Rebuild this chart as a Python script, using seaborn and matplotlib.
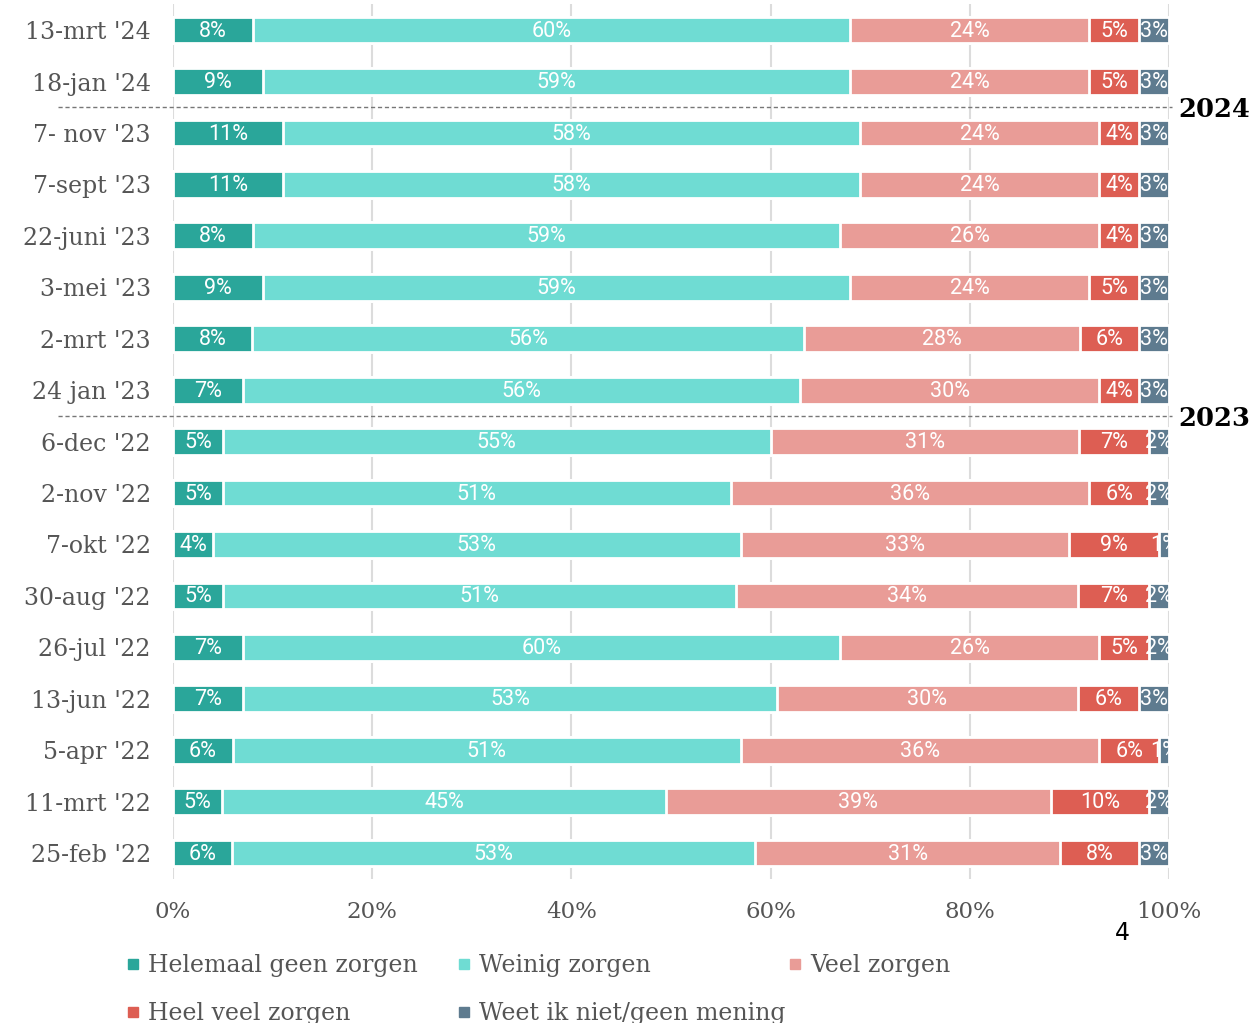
import numpy as np
import pandas as pd
import matplotlib
matplotlib.use("Agg")
import matplotlib.pyplot as plt
import seaborn as sns
from matplotlib.patches import Rectangle
from matplotlib.lines import Line2D

# ---------------- data ----------------
dates = ["13-mrt '24", "18-jan '24", "7- nov '23", "7-sept '23", "22-juni '23",
         "3-mei '23", "2-mrt '23", "24 jan '23", "6-dec '22", "2-nov '22",
         "7-okt '22", "30-aug '22", "26-jul '22", "13-jun '22", "5-apr '22",
         "11-mrt '22", "25-feb '22"]
geen_zorgen = [8, 9, 11, 11, 8, 9, 8, 7, 5, 5, 4, 5, 7, 7, 6, 5, 6]
weinig_zorgen = [60, 59, 58, 58, 59, 59, 56, 56, 55, 51, 53, 51, 60, 53, 51, 45, 53]
veel_zorgen = [24, 24, 24, 24, 26, 24, 28, 30, 31, 36, 33, 34, 26, 30, 36, 39, 31]
heel_veel_zorgen = [5, 5, 4, 4, 4, 5, 6, 4, 7, 6, 9, 7, 5, 6, 6, 10, 8]
weet_niet = [3, 3, 3, 3, 3, 3, 3, 3, 2, 2, 1, 2, 2, 3, 1, 2, 3]
categories = ["Helemaal geen zorgen", "Weinig zorgen", "Veel zorgen",
              "Heel veel zorgen", "Weet ik niet/geen mening"]
colors = ["#2aa69a", "#6fdcd3", "#e99c97", "#dd5e53", "#5e7b8f"]
x_ticks = [0, 20, 40, 60, 80, 100]
year_labels = ["2024", "2023"]
year_boundaries = [1.5, 7.5]   # between rows (after 18-jan '24 and 24 jan '23)

# ---------------- style ----------------
sns.set_theme(style="white")
plt.rcParams["font.family"] = ["DejaVu Serif"]

fig = plt.figure(figsize=(12.58, 10.23), dpi=100)
ax = fig.add_axes([0.1375, 0.141, 0.7917, 0.8547])

vals = np.array([geen_zorgen, weinig_zorgen, veel_zorgen, heel_veel_zorgen, weet_niet], float)
share = vals / vals.sum(axis=0) * 100
cum = share.cumsum(axis=0)

bar_w = 0.52
df = pd.DataFrame({"date": dates})
for k in range(len(categories) - 1, -1, -1):
    df["cum"] = cum[k]
    sns.barplot(data=df, x="cum", y="date", order=dates, orient="h",
                color=colors[k], saturation=1, width=bar_w, errorbar=None,
                edgecolor="white", linewidth=2, ax=ax)

# segment labels
for k in range(len(categories)):
    left = cum[k] - share[k]
    for i in range(len(dates)):
        t = ax.text(left[i] + share[k][i] / 2, i + 0.02, f"{vals[k, i]:.0f}%",
                    ha="center", va="center", color="white", fontsize=15.5,
                    family=["Roboto", "DejaVu Sans"], zorder=6)
        t.set_clip_path(Rectangle((left[i], i - bar_w / 2), share[k][i], bar_w,
                                  transform=ax.transData))

ax.set_xlim(0, 100)
ax.set_ylim(len(dates) - 0.5, -0.5)
ax.set_xticks(x_ticks)
ax.set_xticklabels([f"{v}%" for v in x_ticks])
ax.set_xlabel("")
ax.set_ylabel("")
ax.xaxis.grid(True, color="#dcdcdc", lw=1.5)
ax.yaxis.grid(False)
ax.set_axisbelow(True)
for s in ax.spines.values():
    s.set_visible(False)
ax.tick_params(axis="y", length=0, pad=16, labelsize=17, labelcolor="#555555")
ax.tick_params(axis="x", length=0, pad=16, labelsize=16.5, labelcolor="#555555")

# year separators
for lab, yb in zip(year_labels, year_boundaries):
    ax.plot([-0.1155, 1.003], [yb, yb], transform=ax.get_yaxis_transform(),
            color="#777777", lw=1, ls=(0, (3, 2)), clip_on=False, zorder=7)
    ax.text(1.009, yb, lab, transform=ax.get_yaxis_transform(), fontsize=18.5,
            fontweight="bold", color="black", va="center_baseline", ha="left")

fig.text(1122 / 1258, 1 - 933 / 1023, "4", ha="center", va="center",
         fontsize=17, family="DejaVu Sans", color="black")

# legend (row-major layout using three columns)
handles = [Line2D([], [], marker="s", ls="", color=c, markersize=7) for c in colors]
cols = [[0, 3], [1, 4], [2]]
col_x = [126 / 1258, 457 / 1258, 788 / 1258]
for cx, idx in zip(col_x, cols):
    fig.legend([handles[i] for i in idx], [categories[i] for i in idx],
               loc="upper left", bbox_to_anchor=(cx, 0.067), frameon=False,
               fontsize=17, handlelength=0.6, handletextpad=0.35, borderpad=0,
               borderaxespad=0, labelspacing=1.05, labelcolor="#555555")

fig.savefig("out.png", dpi=100)
